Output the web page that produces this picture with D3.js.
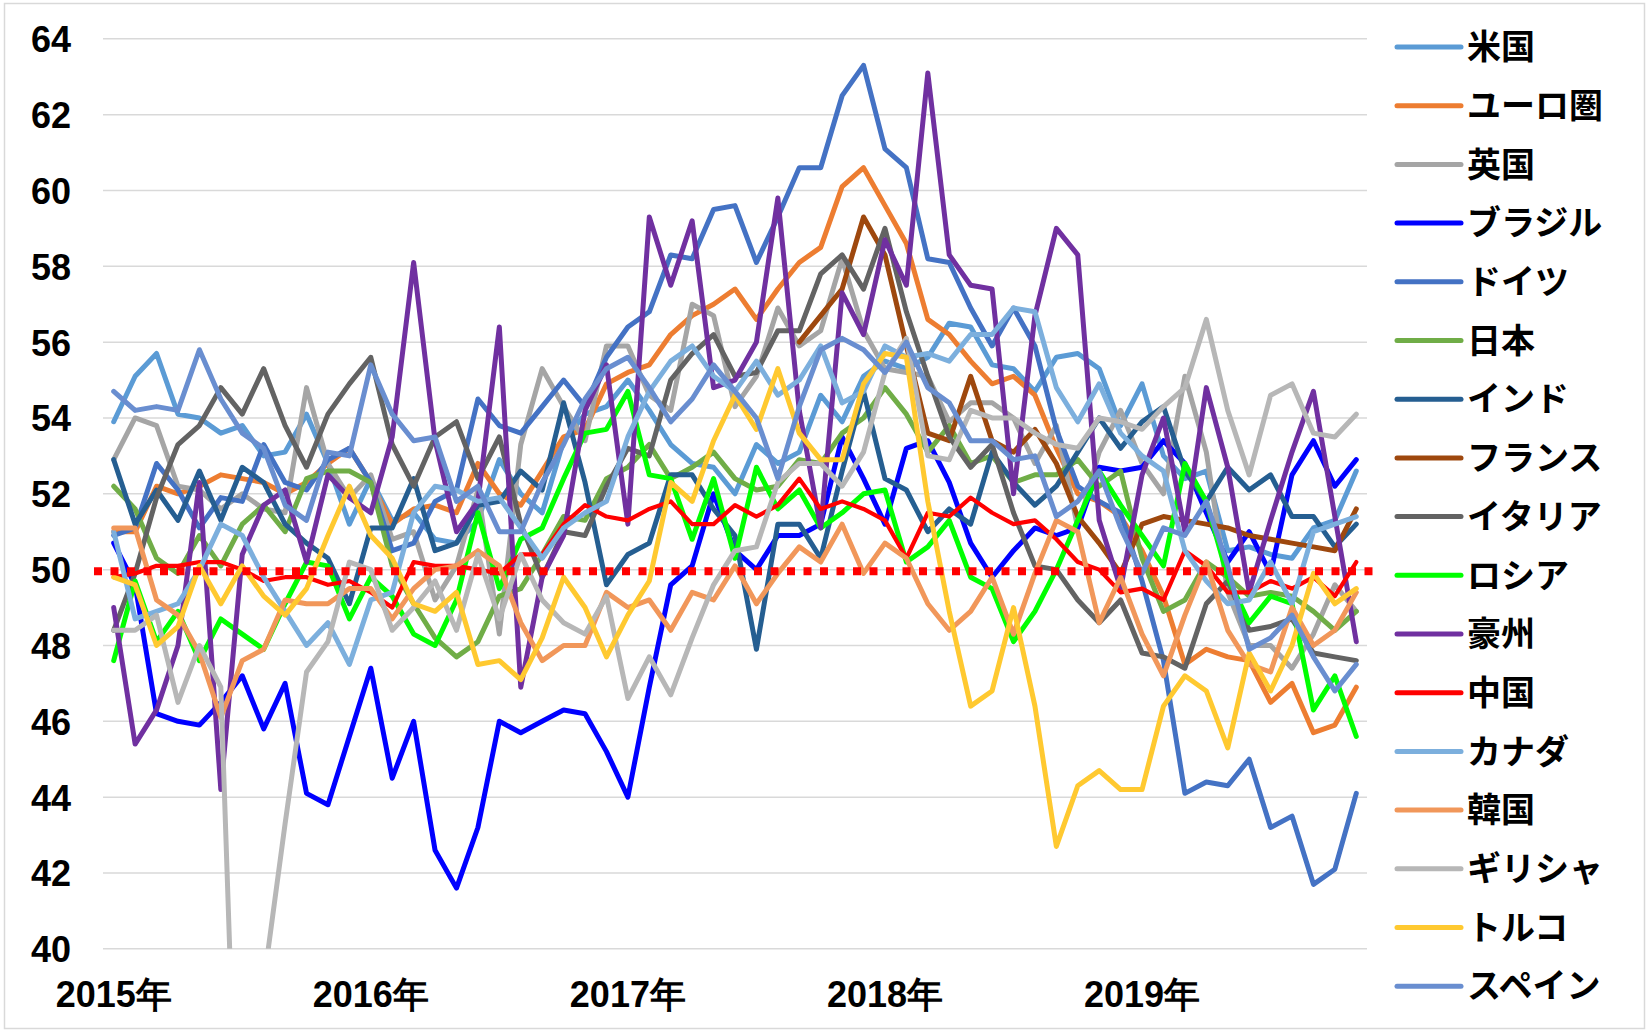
<!DOCTYPE html>
<html>
<head>
<meta charset="utf-8">
<script src="https://cdn.jsdelivr.net/npm/d3@7"></script>
<style>
  body { margin: 0; background: #fff; }
  svg { display: block; }
  .tick-label { font-family: "Liberation Sans", Arial, sans-serif; font-weight: bold; font-size: 36px; fill: #000; }
  .legend-label { font-family: "Noto Sans CJK JP", sans-serif; font-weight: bold; font-size: 34px; fill: #000; }
</style>
</head>
<body>
<svg id="chart"></svg>
<script>
// 2015年1月 - 2019年11月, 月次
const years = ['2015年', '2016年', '2017年', '2018年', '2019年'];
const yTicks = [40, 42, 44, 46, 48, 50, 52, 54, 56, 58, 60, 62, 64];

const us = [53.9,55.1,55.7,54.1,54.0,53.6,53.8,53.0,53.1,54.1,52.8,51.2,
  52.4,51.3,51.5,50.8,50.7,51.3,52.9,52.0,51.5,53.4,54.1,54.3,
  55.0,54.2,53.3,52.8,52.7,52.0,53.3,52.8,53.1,54.6,53.9,55.1,
  55.5,55.3,55.6,56.5,56.4,55.4,55.3,54.7,55.6,55.7,55.3,53.8,
  54.9,53.0,52.4,52.6,50.5,50.6,50.4,50.3,51.1,51.3,52.6];
const euro = [51.0,51.0,52.2,52.0,52.2,52.5,52.4,52.3,52.0,52.3,52.8,53.2,
  52.3,51.2,51.6,51.7,51.5,52.8,52.0,51.7,52.6,53.5,53.7,54.9,
  55.2,55.4,56.2,56.7,57.0,57.4,56.6,57.4,58.1,58.5,60.1,60.6,
  59.6,58.6,56.6,56.2,55.5,54.9,55.1,54.6,53.2,52.0,51.8,51.4,
  50.5,49.3,47.5,47.9,47.7,47.6,46.5,47.0,45.7,45.9,46.9];
const uk = [52.9,54.0,53.8,52.2,52.1,51.6,52.0,51.6,51.5,54.8,52.8,51.9,
  52.5,50.8,51.0,49.2,50.1,52.1,48.3,53.3,55.3,54.3,53.4,55.9,
  55.9,54.6,54.2,57.0,56.7,54.3,55.1,56.9,55.9,56.3,58.2,56.3,
  55.3,55.2,55.1,53.9,54.4,54.4,54.0,52.8,53.8,51.1,53.1,54.2,
  52.8,52.0,55.1,53.1,49.4,48.0,48.0,47.4,48.3,49.6,48.9];
const brazil = [50.7,49.6,46.2,46.0,45.9,46.5,47.2,45.8,47.0,44.1,43.8,45.6,
  47.4,44.5,46.0,42.6,41.6,43.2,46.0,45.7,46.0,46.3,46.2,45.2,
  44.0,46.9,49.6,50.1,52.0,50.5,50.0,50.9,50.9,51.2,53.5,52.4,
  51.2,53.2,53.4,52.3,50.7,49.8,50.5,51.1,50.9,51.1,52.7,52.6,
  52.7,53.4,52.8,51.5,50.2,51.0,49.9,52.5,53.4,52.2,52.9];
const germany = [50.9,51.1,52.8,52.1,51.1,51.9,51.8,53.3,52.3,52.1,52.9,53.2,
  52.3,50.5,50.7,51.8,52.1,54.5,53.8,53.6,54.3,55.0,54.3,55.6,
  56.4,56.8,58.3,58.2,59.5,59.6,58.1,59.3,60.6,60.6,62.5,63.3,
  61.1,60.6,58.2,58.1,56.9,55.9,56.9,55.9,53.7,52.2,51.8,51.5,
  49.7,47.6,44.1,44.4,44.3,45.0,43.2,43.5,41.7,42.1,44.1];
const japan = [52.2,51.6,50.3,49.9,50.9,50.1,51.2,51.7,51.0,52.4,52.6,52.6,
  52.3,50.1,49.1,48.2,47.7,48.1,49.3,49.5,50.4,51.4,51.3,52.4,
  52.7,53.3,52.4,52.7,53.1,52.4,52.1,52.2,52.9,52.8,53.6,54.0,
  54.8,54.1,53.1,53.8,52.8,53.0,52.3,52.5,52.5,52.9,52.2,52.6,
  50.3,48.9,49.2,50.2,49.8,49.3,49.4,49.3,48.9,48.4,48.9];
const india = [52.9,51.2,52.1,51.3,52.6,51.3,52.7,52.3,51.2,50.7,50.3,49.1,
  51.1,51.1,52.4,50.5,50.7,51.7,51.8,52.6,52.1,54.4,52.3,49.6,
  50.4,50.7,52.5,52.5,51.6,50.9,47.9,51.2,51.2,50.3,52.6,54.7,
  52.4,52.1,51.0,51.6,51.2,53.1,52.3,51.7,52.2,53.1,54.0,53.2,
  53.9,54.3,52.6,51.8,52.7,52.1,52.5,51.4,51.4,50.6,51.2];
const france = [null,null,null,null,null,null,null,null,null,null,null,null,
  null,null,null,null,null,null,null,null,null,null,null,null,
  null,null,null,null,null,null,null,null,56.0,56.7,57.4,59.3,
  58.3,55.9,53.6,53.4,55.1,53.4,53.1,53.7,52.8,51.4,50.7,49.9,
  51.2,51.4,51.3,51.2,51.1,50.9,50.8,50.7,50.6,50.5,51.6];
const italy = [48.4,49.9,51.9,53.3,53.8,54.8,54.1,55.3,53.8,52.7,54.1,54.9,
  55.6,53.3,52.2,53.5,53.9,52.4,53.5,51.2,49.8,51.0,50.9,52.2,
  53.2,53.0,55.0,55.7,56.2,55.1,55.2,56.3,56.3,57.8,58.3,57.4,
  59.0,56.8,55.1,53.5,52.7,53.3,51.5,50.1,50.0,49.2,48.6,49.2,
  47.8,47.7,47.4,49.1,49.7,48.4,48.5,48.7,47.8,47.7,47.6];
const russia = [47.6,49.7,48.1,48.9,47.6,48.7,48.3,47.9,49.1,50.2,50.1,48.7,
  49.8,49.3,48.3,48.0,49.2,51.5,49.5,50.8,51.1,52.4,53.6,53.7,
  54.7,52.5,52.4,50.8,52.4,50.3,52.7,51.6,52.1,51.1,51.5,52.0,
  52.1,50.2,50.6,51.3,49.8,49.5,48.1,48.9,50.0,51.3,52.6,51.7,
  50.9,50.1,52.8,51.8,49.8,48.6,49.3,49.1,46.3,47.2,45.6];
const australia = [49.0,45.4,46.3,48.0,52.3,44.2,50.4,51.7,52.1,50.2,52.5,51.9,
  51.5,53.5,58.1,53.4,51.0,51.8,56.4,46.9,49.8,50.9,54.2,55.4,
  51.2,59.3,57.5,59.2,54.8,55.0,56.0,59.8,54.2,51.1,57.3,56.2,
  58.7,57.5,63.1,58.3,57.5,57.4,52.0,56.7,59.0,58.3,51.3,49.5,
  52.5,54.0,51.0,54.8,52.7,49.4,51.3,53.1,54.7,51.4,48.1];
const china = [49.8,49.9,50.1,50.1,50.2,50.2,50.0,49.7,49.8,49.8,49.6,49.7,
  49.4,49.0,50.2,50.1,50.1,50.0,49.9,50.4,50.4,51.2,51.7,51.4,
  51.3,51.6,51.8,51.2,51.2,51.7,51.4,51.7,52.4,51.6,51.8,51.6,
  51.3,50.3,51.5,51.4,51.9,51.5,51.2,51.3,50.8,50.2,50.0,49.4,
  49.5,49.2,50.5,50.1,49.4,49.4,49.7,49.5,49.8,49.3,50.2];
const canada = [51.0,48.7,48.9,49.1,50.0,51.2,50.9,49.8,48.9,48.0,48.6,47.5,
  49.2,49.4,51.5,52.2,52.1,51.8,51.9,51.1,50.3,51.1,51.5,51.8,
  53.5,54.7,55.5,55.9,55.1,54.7,55.5,54.6,55.0,55.9,54.4,54.7,
  55.9,55.6,55.7,55.5,56.2,56.2,56.9,56.8,54.8,53.9,54.9,53.6,
  53.0,52.6,50.5,49.7,49.1,49.2,50.2,49.1,51.0,51.2,51.4];
const korea = [51.1,51.1,49.2,48.8,47.8,46.1,47.6,47.9,49.2,49.1,49.1,49.5,
  49.5,48.7,49.5,50.0,50.1,50.5,50.1,48.6,47.6,48.0,48.0,49.4,
  49.0,49.2,48.4,49.4,49.2,50.1,49.1,49.9,50.6,50.2,51.2,49.9,
  50.7,50.3,49.1,48.4,48.9,49.8,48.3,49.9,51.3,51.0,48.6,49.8,
  48.3,47.2,48.8,50.2,48.4,47.5,47.3,49.0,48.0,48.4,49.4];
const greece = [48.4,48.4,48.8,46.5,48.0,46.9,30.2,39.1,43.3,47.3,48.1,50.2,
  50.0,48.4,49.0,49.7,48.4,50.4,48.7,50.4,49.2,48.6,48.3,49.3,
  46.6,47.7,46.7,48.2,49.6,50.5,50.6,52.3,52.8,52.8,52.2,53.1,
  55.2,56.1,53.0,52.9,54.2,54.0,54.0,53.6,53.3,53.2,54.0,53.9,
  53.7,54.3,54.8,56.6,54.2,52.5,54.6,54.9,53.6,53.5,54.1];
const turkey = [49.8,49.6,48.0,48.5,50.1,49.1,50.1,49.3,48.8,49.5,50.9,52.2,
  50.9,50.3,49.1,48.9,49.4,47.5,47.6,47.1,48.2,49.8,49.0,47.7,
  48.8,49.7,52.3,51.8,53.4,54.6,53.7,55.3,53.6,52.9,52.9,54.9,
  55.7,55.6,51.8,48.9,46.4,46.8,49.0,46.4,42.7,44.3,44.7,44.2,
  44.2,46.4,47.2,46.8,45.3,47.8,46.8,48.0,49.9,49.1,49.5];
const spain = [54.7,54.2,54.3,54.2,55.8,54.5,53.6,53.2,51.7,51.3,53.1,53.0,
  55.4,54.1,53.4,53.5,51.8,52.2,51.0,51.0,52.3,53.3,54.5,55.3,
  55.6,54.8,53.9,54.5,55.4,54.7,54.0,52.4,54.3,55.8,56.1,55.8,
  55.2,56.0,54.8,54.4,53.4,53.4,52.9,53.0,51.4,51.8,52.6,51.1,
  49.9,51.1,50.9,51.8,50.1,47.9,48.2,48.8,47.7,46.8,47.5];

const series = [
  { name: '米国', values: us, color: '#5B9BD5' },
  { name: 'ユーロ圏', values: euro, color: '#ED7D31' },
  { name: '英国', values: uk, color: '#A5A5A5' },
  { name: 'ブラジル', values: brazil, color: '#0000FF' },
  { name: 'ドイツ', values: germany, color: '#4472C4' },
  { name: '日本', values: japan, color: '#70AD47' },
  { name: 'インド', values: india, color: '#255E91' },
  { name: 'フランス', values: france, color: '#9E480E' },
  { name: 'イタリア', values: italy, color: '#636363' },
  { name: 'ロシア', values: russia, color: '#00FF00' },
  { name: '豪州', values: australia, color: '#7030A0' },
  { name: '中国', values: china, color: '#FF0000' },
  { name: 'カナダ', values: canada, color: '#7CAFDD' },
  { name: '韓国', values: korea, color: '#F1975A' },
  { name: 'ギリシャ', values: greece, color: '#B7B7B7' },
  { name: 'トルコ', values: turkey, color: '#FFC930' },
  { name: 'スペイン', values: spain, color: '#698ED0' }
];

const W = 1649, H = 1031;
const plot = { left: 103, right: 1367, top: 38.8, bottom: 948.8 };

const svg = d3.select('#chart').attr('width', W).attr('height', H);

svg.append('rect').attr('x', 4.5).attr('y', 3.5).attr('width', 1640).attr('height', 1025)
  .attr('fill', '#fff').attr('stroke', '#D9D9D9').attr('stroke-width', 1.5);

const months = d3.range(us.length);
const x = d3.scaleBand().domain(months).range([plot.left, plot.right]);
const cx = i => x(i) + x.bandwidth() / 2;
const y = d3.scaleLinear().domain([40, 64]).range([plot.bottom, plot.top]);

// grid lines
svg.append('g').selectAll('line').data(yTicks).enter().append('line')
  .attr('x1', plot.left).attr('x2', plot.right)
  .attr('y1', d => y(d)).attr('y2', d => y(d))
  .attr('stroke', '#D9D9D9').attr('stroke-width', 1.5);

// y axis labels
const yAxis = d3.axisLeft(y).tickValues(yTicks).tickSize(0).tickPadding(0);
const gy = svg.append('g').attr('transform', 'translate(71,0)').call(yAxis);
gy.select('.domain').remove();
gy.selectAll('text').attr('class', 'tick-label').attr('dy', '0.36em').attr('x', 0);

// x axis labels (one per year)
const xAxis = d3.axisBottom(x).tickValues(years.map((d, k) => k * 12))
  .tickFormat(d => years[d / 12]).tickSize(0).tickPadding(0);
const gx = svg.append('g').attr('transform', 'translate(0,981)').call(xAxis);
gx.select('.domain').remove();
gx.selectAll('text').attr('class', 'tick-label').attr('dy', '0.71em').attr('y', 0);

svg.append('clipPath').attr('id', 'plot-clip').append('rect')
  .attr('x', 0).attr('y', 0).attr('width', W).attr('height', plot.bottom);

const line = d3.line()
  .defined(d => d != null)
  .x((d, i) => cx(i))
  .y(d => y(d));

const lines = svg.append('g').attr('clip-path', 'url(#plot-clip)');
series.forEach(s => {
  lines.append('path')
    .datum(s.values)
    .attr('fill', 'none')
    .attr('stroke', s.color)
    .attr('stroke-width', s.name === '中国' ? 4.2 : 5)
    .attr('stroke-linejoin', 'round')
    .attr('stroke-linecap', 'round')
    .attr('d', line);
});

// 50 line
svg.append('line')
  .attr('x1', 94).attr('x2', 1377)
  .attr('y1', y(50) + 1.5).attr('y2', y(50) + 1.5)
  .attr('stroke', '#FF0000').attr('stroke-width', 8)
  .attr('stroke-dasharray', '8,8.5');

// legend
const legend = svg.append('g');
const rows = legend.selectAll('g').data(series).enter().append('g')
  .attr('transform', (d, k) => `translate(0,${47 + k * 58.7})`);
rows.append('line')
  .attr('x1', 1397).attr('x2', 1461)
  .attr('stroke', d => d.color).attr('stroke-width', 5).attr('stroke-linecap', 'round');
rows.append('text')
  .attr('class', 'legend-label')
  .attr('x', 1467).attr('dy', '0.36em')
  .text(d => d.name);
</script>
</body>
</html>
